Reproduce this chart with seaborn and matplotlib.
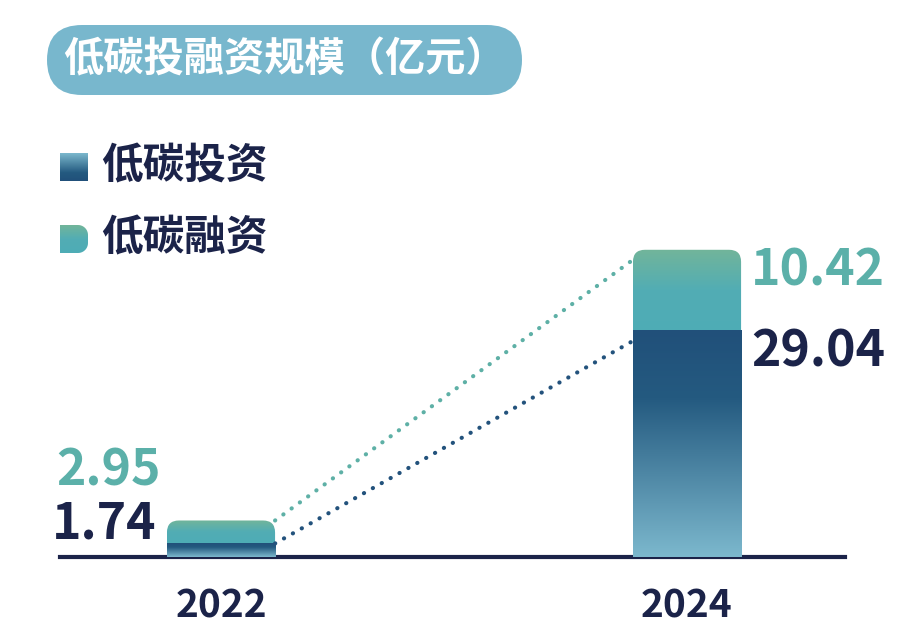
import numpy as np
import pandas as pd
import matplotlib
matplotlib.use('Agg')
import matplotlib.pyplot as plt
import seaborn as sns
from matplotlib.colors import LinearSegmentedColormap
from matplotlib.patches import FancyBboxPatch, PathPatch
from matplotlib.path import Path

# data
years = ['2022', '2024']
investment = [1.74, 29.04]
financing = [2.95, 10.42]
title = '低碳投融资规模（亿元）'
legend_labels = ['低碳投资', '低碳融资']

totals = [a + b for a, b in zip(investment, financing)]

sns.set_theme(style='white')
plt.rcParams['font.family'] = ['Noto Sans CJK SC', 'DejaVu Sans']

navy = '#1b2349'
teal = '#5bb0a9'
pill = '#78b7cd'
invest_cmap = LinearSegmentedColormap.from_list(
    'inv', [(0, '#21507a'), (0.3, '#245a80'), (1, '#7cb8cd')])
fin_cmap = LinearSegmentedColormap.from_list(
    'fin', [(0, '#72b59a'), (0.5, '#52adb4'), (1, '#4eacb6')])
grad = np.linspace(0, 1, 256).reshape(-1, 1)

W, H = 910, 628
fig = plt.figure(figsize=(W / 100, H / 100), dpi=100)
ax_px = (60, 71, 785, 457)  # left, bottom, width, height in pixels
ax = fig.add_axes([ax_px[0] / W, ax_px[1] / H, ax_px[2] / W, ax_px[3] / H])

df = pd.DataFrame({'year': years, 'total': totals, 'investment': investment})
bar_w = 0.232
sns.barplot(data=df, x='year', y='total', width=bar_w, color='white', ax=ax)
sns.barplot(data=df, x='year', y='investment', width=bar_w, color='white', ax=ax)

xlim = (-0.3455, 1.339)
ylim = (0, 58.7)
px_x = ax_px[2] / (xlim[1] - xlim[0])
px_y = ax_px[3] / (ylim[1] - ylim[0])

tot_patches = ax.patches[:2]
inv_patches = ax.patches[2:4]
for i, (tp, ip) in enumerate(zip(tot_patches, inv_patches)):
    x0, w = tp.get_x(), tp.get_width()
    tp.set_visible(False)
    ip.set_visible(False)
    clip = FancyBboxPatch((x0, 0), w, totals[i],
                          boxstyle='round,pad=0,rounding_size=%f' % (12 / px_x),
                          mutation_aspect=px_x / px_y, transform=ax.transData)
    im = ax.imshow(grad, extent=[x0, x0 + w, investment[i], totals[i]], origin='upper',
                   cmap=fin_cmap, aspect='auto', zorder=2)
    im.set_clip_path(clip)
    ax.imshow(grad, extent=[x0, x0 + w, 0, investment[i]], origin='upper',
              cmap=invest_cmap, aspect='auto', zorder=3)

# dotted connectors
x_start = tot_patches[0].get_x() + bar_w
x_end = tot_patches[1].get_x()
drop = 10 / px_y
ax.plot([x_start, x_end], [totals[0], totals[1] - drop], color='#5eb0a6',
        lw=3, linestyle=(0, (0.05, 2.4)), dash_capstyle='round', zorder=4)
ax.plot([x_start, x_end], [investment[0], investment[1] - drop], color='#23527c',
        lw=3, linestyle=(0, (0.05, 2.4)), dash_capstyle='round', zorder=4)

# value labels
num_kw = dict(fontsize=36, fontweight='bold', textcoords='offset pixels')
for i in range(2):
    xr = tot_patches[i].get_x() + bar_w
    xl = tot_patches[i].get_x()
    if i == 1:
        ax.annotate(f'{financing[i]:.2f}', (xr, totals[i]), xytext=(10, 4),
                    ha='left', va='top', color=teal, **num_kw)
        ax.annotate(f'{investment[i]:.2f}', (xr, investment[i]), xytext=(10, 4),
                    ha='left', va='top', color=navy, **num_kw)
    else:
        ax.annotate(f'{financing[i]:.2f}', (xl, totals[i]), xytext=(-6, 24),
                    ha='right', va='bottom', color=teal, **num_kw)
        ax.annotate(f'{investment[i]:.2f}', (xl, investment[i]), xytext=(-11, -6),
                    ha='right', va='bottom', color=navy, **num_kw)

ax.set_xlim(*xlim)
ax.set_ylim(*ylim)
ax.set_yticks([])
ax.set_xlabel('')
ax.set_ylabel('')
for s in ['top', 'right', 'left']:
    ax.spines[s].set_visible(False)
ax.spines['bottom'].set_color(navy)
ax.spines['bottom'].set_linewidth(3)
ax.tick_params(axis='x', length=0, pad=21, labelsize=28, labelcolor=navy)
for lbl in ax.get_xticklabels():
    lbl.set_fontweight('bold')
ax.patch.set_alpha(0)

# overlay for title pill and legend (pixel coordinates)
ov = fig.add_axes([0, 0, 1, 1])
ov.set_xlim(0, W)
ov.set_ylim(H, 0)
ov.axis('off')
ov.patch.set_alpha(0)

ov.add_patch(FancyBboxPatch((47, 25), 475, 70, boxstyle='round,pad=0,rounding_size=35',
                            fc=pill, ec='none'))
ov.text(285, 60, title, ha='center', va='center', color='white',
        fontsize=29, fontweight='bold')

# legend markers
ov.imshow(1 - grad, extent=[60, 88, 181, 153], origin='upper', cmap=invest_cmap,
          aspect='auto', vmin=0, vmax=1)
t = np.linspace(0, np.pi / 2, 12)
r = 10
verts = [(60, 225), (88 - r, 225)]
verts += [(88 - r + r * np.sin(a), 225 + r - r * np.cos(a)) for a in t]
verts += [(88 - r + r * np.cos(a), 253 - r + r * np.sin(a)) for a in t]
verts += [(60, 253), (60, 225)]
d_patch = PathPatch(Path(verts), transform=ov.transData, fc='none', ec='none')
ov.add_patch(d_patch)
dm = ov.imshow(grad, extent=[60, 88, 253, 225], origin='upper', cmap=fin_cmap,
               aspect='auto')
dm.set_clip_path(d_patch)

for y, lab in zip([166, 238], legend_labels):
    ov.text(101, y, lab, ha='left', va='center', color=navy, fontsize=30,
            fontweight='bold')
ov.set_xlim(0, W)
ov.set_ylim(H, 0)

fig.savefig('out.png', dpi=100, facecolor='white')
